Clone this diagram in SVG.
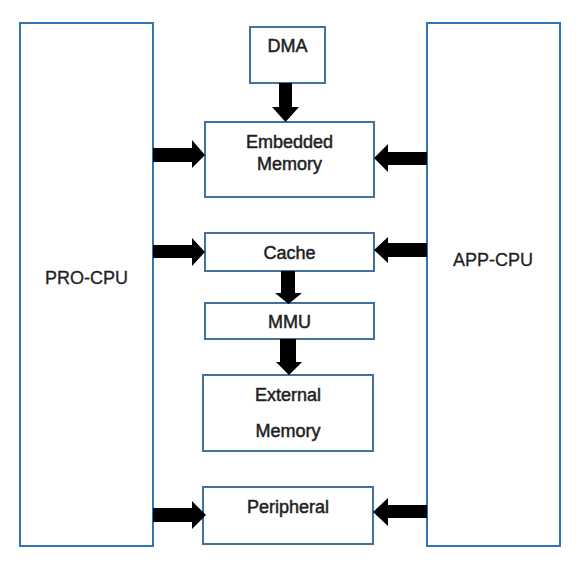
<svg xmlns="http://www.w3.org/2000/svg" width="580" height="564" viewBox="0 0 580 564">
<style>
.cpu{fill:#fff;stroke:#2E75B6;stroke-width:2}
.box{fill:#fff;stroke:#41719C;stroke-width:2}
text{font-family:"Liberation Sans",Arial,sans-serif;font-size:18px;fill:#1f1f1f;stroke:#1f1f1f;stroke-width:0.5;text-anchor:middle}
.arr{fill:#000}
</style>
<rect width="580" height="564" fill="#fff"/>
<g id="pro-cpu"><rect class="cpu" x="20" y="23" width="133" height="523"/><text x="86.5" y="284" style="stroke-width:0.3">PRO-CPU</text></g>
<g id="app-cpu"><rect class="cpu" x="427" y="23" width="133" height="523"/><text x="493" y="266" style="stroke-width:0.3">APP-CPU</text></g>
<g id="dma"><rect class="box" x="250" y="27" width="75" height="56"/><text x="287.5" y="52">DMA</text></g>
<g id="embedded"><rect class="box" x="205" y="122" width="169" height="75"/><text x="289.5" y="148">Embedded</text><text x="289.5" y="170">Memory</text></g>
<g id="cache"><rect class="box" x="205" y="233" width="169" height="38"/><text x="289.5" y="259">Cache</text></g>
<g id="mmu"><rect class="box" x="205" y="303" width="169" height="36"/><text x="289.5" y="328">MMU</text></g>
<g id="external"><rect class="box" x="203" y="375" width="170" height="76"/><text x="288" y="401">External</text><text x="288" y="437">Memory</text></g>
<g id="peripheral"><rect class="box" x="203" y="487" width="170" height="57"/><text x="288" y="513">Peripheral</text></g>
<g id="connectors" class="arr">
<polygon points="153,148 192,148 192,140 205,155 192,168 192,162 153,162"/>
<polygon points="427,152 388,152 388,144 374,158 388,172 388,165 427,165"/>
<polygon points="153,245 192,245 192,238 205,252 192,266 192,258 153,258"/>
<polygon points="427,243 388,243 388,237 374,250 388,263 388,257 427,257"/>
<polygon points="153,508 192,508 192,501 206,515 192,529 192,522 153,522"/>
<polygon points="427,505 388,505 388,498 373,512 388,526 388,518 427,518"/>
<polygon points="279,83 292,83 292,107 299,107 285.5,122 272,107 279,107"/>
<polygon points="281,271 295,271 295,293 302,293 288.5,304 275,293 281,293"/>
<polygon points="280,339 296,339 296,362 302,362 289,375 276,362 280,362"/>
</g>
</svg>
